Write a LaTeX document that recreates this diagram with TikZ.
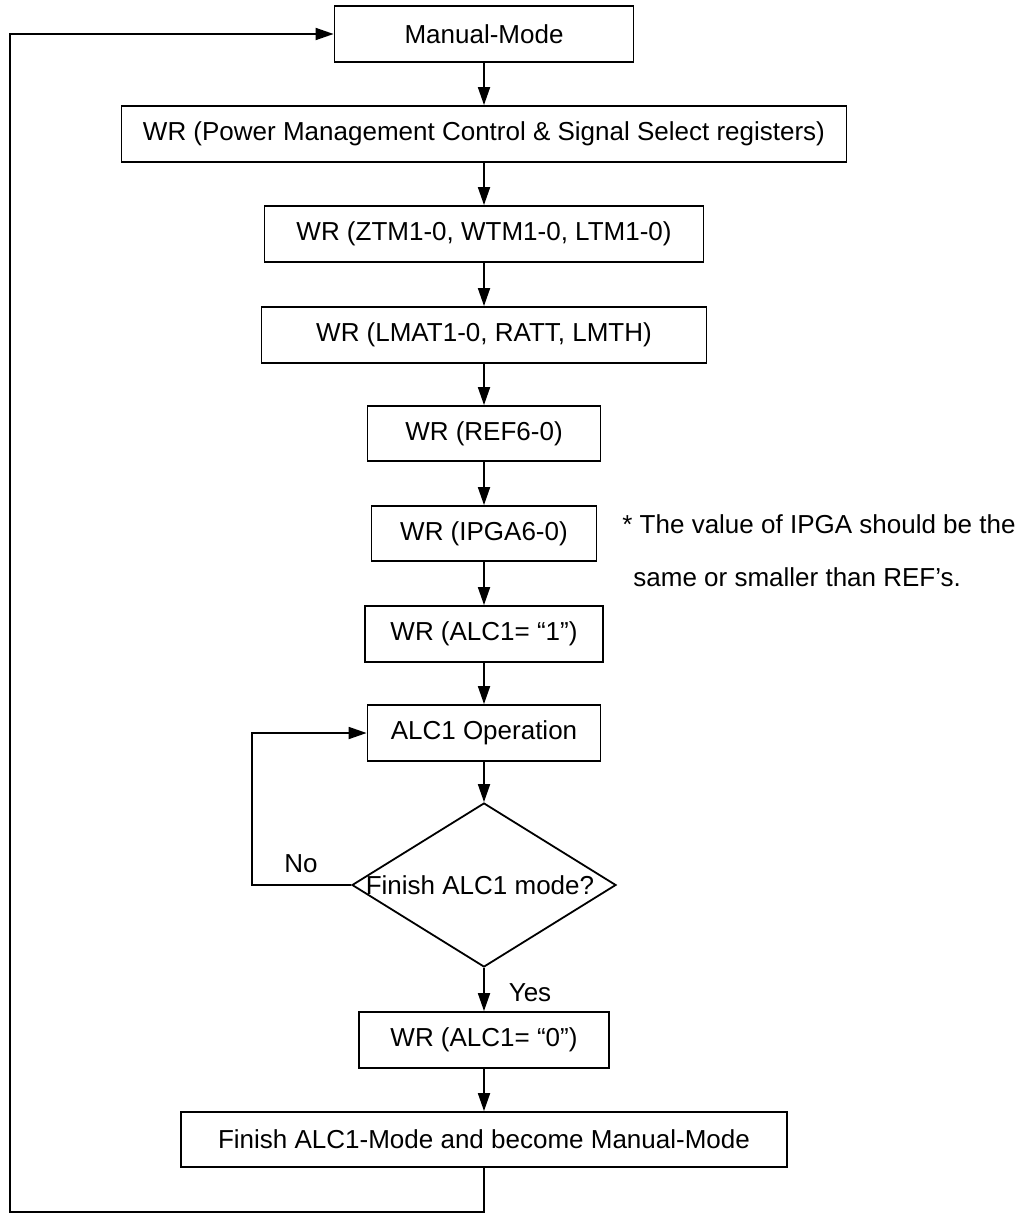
\documentclass[tikz,border=0pt]{standalone}
\usepackage{fontspec}
\setmainfont{Liberation Sans}
\usetikzlibrary{arrows.meta,shapes.geometric}
\begin{document}
\begin{tikzpicture}[x=0.5pt,y=-0.5pt,
  every node/.style={font=\fontsize{13pt}{15pt}\selectfont},
  box/.style={draw, line width=0.9pt, minimum height=28pt, inner sep=0pt},
  arr/.style={line width=0.9pt, -{Triangle[length=9pt,width=6pt]}},
  ln/.style={line width=0.9pt}]
\useasboundingbox (0,0) rectangle (1018,1220);
\node[box, minimum width=149.5pt] (manual) at (484,34) {Manual-Mode};
\node[box, minimum width=362.5pt] (power) at (484,134) {WR (Power Management Control \& Signal Select registers)};
\node[box, minimum width=219.5pt] (ztm) at (484,234) {WR (ZTM1-0, WTM1-0, LTM1-0)};
\node[box, minimum width=222.5pt] (lmat) at (484,335) {WR (LMAT1-0, RATT, LMTH)};
\node[box, minimum width=116.5pt, minimum height=27.5pt] (ref) at (484,433.5) {WR (REF6-0)};
\node[box, minimum width=112.5pt, minimum height=27.5pt] (ipga) at (484,533.5) {WR (IPGA6-0)};
\node[box, minimum width=119pt] (alc1) at (484,634) {WR (ALC1= “1”)};
\node[box, minimum width=116.5pt] (op) at (484,733) {ALC1 Operation};
\node[diamond, draw, line width=0.9pt, minimum width=132pt, minimum height=82pt, inner sep=0pt] (dec) at (484,885) {};
\node (dectext) at (480,885) {Finish ALC1 mode?};
\node[box, minimum width=125pt] (alc0) at (484,1040) {WR (ALC1= “0”)};
\node[box, minimum width=303pt, minimum height=27.5pt] (finish) at (484,1139.5) {Finish ALC1-Mode and become Manual-Mode};
\node[anchor=base west, inner sep=0pt] (note1) at (622,533) {* The value of IPGA should be the};
\node[anchor=base west, inner sep=0pt] (note2) at (633,586) {same or smaller than REF’s.};
\node (no) at (301,864) {No};
\node (yes) at (530,993) {Yes};
\coordinate (nl) at (252,885);
\coordinate (bl) at (10,1212);
\draw[arr] (manual) -- (power);
\draw[arr] (power) -- (ztm);
\draw[arr] (ztm) -- (lmat);
\draw[arr] (lmat) -- (ref);
\draw[arr] (ref) -- (ipga);
\draw[arr] (ipga) -- (alc1);
\draw[arr] (alc1) -- (op);
\draw[arr] (op) -- (dec.north);
\draw[arr] (dec.south) -- (alc0);
\draw[arr] (alc0) -- (finish);
\draw[arr] (dec.west) -- (nl) -- (nl |- op.west) -- (op.west);
\draw[arr] (finish.south) -- (finish.south |- bl) -- (bl) -- (bl |- manual.west) -- (manual.west);
\end{tikzpicture}
\end{document}
